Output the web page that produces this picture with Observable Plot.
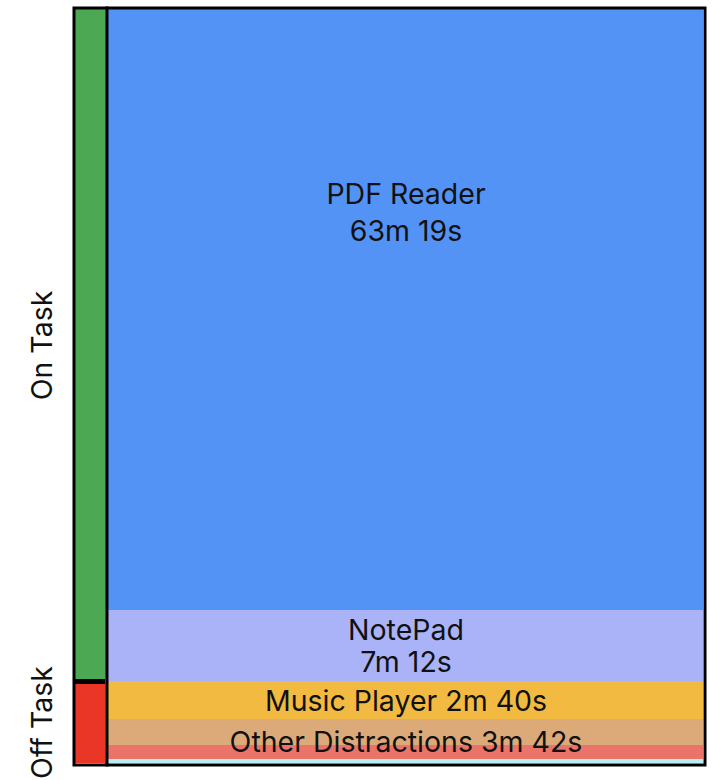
<!DOCTYPE html>
<html>
<head>
<meta charset="utf-8">
<script src="https://cdn.jsdelivr.net/npm/d3@7"></script>
<script src="https://cdn.jsdelivr.net/npm/@observablehq/plot@0.6"></script>
<style>
  html, body { margin: 0; padding: 0; background: white; }
  #chart { display: flex; flex-direction: row; width: 715px; height: 780px; overflow: hidden; }
</style>
</head>
<body>
<div id="chart"></div>
<script>
// ---- data ----
// segments of the right column (relative heights)
const segmentNames = ["PDF Reader", "NotePad", "Music Player", "Other (a)", "Other (b)", "Other (c)"];
const segmentGroup = ["PDF Reader", "NotePad", "Music Player", "Other Distractions", "Other Distractions", "Other Distractions"];
const segmentTask = ["On Task", "On Task", "Off Task", "Off Task", "Off Task", "Off Task"];
const segmentSize = [601, 71, 38, 26, 14, 4];
const segmentColor = ["#5393f6", "#abb3f8", "#f3ba42", "#dcaa79", "#ec736a", "#b5eff2"];

// labels
const labelNames = ["PDF Reader", "NotePad", "Music Player", "Other Distractions"];
const labelTimes = ["63m 19s", "7m 12s", "2m 40s", "3m 42s"];

// task groups (left column)
const taskNames = ["On Task", "Off Task"];
const taskColor = ["#4ca853", "#e93627"];

// ---- derived tables ----
const segments = segmentNames.map((n, i) => ({
  name: n, group: segmentGroup[i], task: segmentTask[i], size: segmentSize[i], color: segmentColor[i]
}));
const total = d3.sum(segmentSize);

function spans(keys, keyOf) {
  let acc = 0;
  const out = [];
  for (const k of keys) {
    const s = d3.sum(segments.filter(d => keyOf(d) === k), d => d.size);
    out.push({key: k, start: acc, end: acc + s, size: s});
    acc += s;
  }
  return out;
}

const groupSpans = spans(labelNames, d => d.group);
const labels = groupSpans.map((g, i) => ({
  name: labelNames[i],
  mid: (g.start + g.end) / 2,
  text: labelNames[i] + (g.size > 50 ? "\n" : " ") + labelTimes[i]
}));
const taskSpans = spans(taskNames, d => d.task);
const tasks = taskSpans.map((t, i) => ({
  name: taskNames[i], size: t.size, mid: (t.start + t.end) / 2, color: taskColor[i]
}));
const onTaskEnd = taskSpans[0].end;

const FONT = "Inter, 'Noto Sans', sans-serif";
const FS = 28.5;
const H = 780, MT = 9, MB = 17;
const yScale = {domain: [0, total], reverse: true, axis: null};

// ---- left column: On Task / Off Task ----
const left = Plot.plot({
  width: 106, height: H,
  marginLeft: 75, marginRight: 1, marginTop: MT, marginBottom: MB,
  style: {fontFamily: FONT, background: "transparent", overflow: "visible"},
  x: {axis: null, padding: 0},
  y: yScale,
  color: {type: "identity"},
  marks: [
    Plot.barY(tasks, {x: () => "task", y: "size", fill: "color", order: null}),
    Plot.ruleY([onTaskEnd], {stroke: "black", strokeWidth: 5}),
    Plot.frame({stroke: "black", strokeWidth: 3, inset: -1.5}),
    Plot.text(tasks, {x: () => "task", y: "mid", text: "name", rotate: -90, dx: -48,
      fontSize: FS, fill: "#111"})
  ]
});

// ---- right column: applications ----
const right = Plot.plot({
  width: 609, height: H,
  marginLeft: 2, marginRight: 12, marginTop: MT, marginBottom: MB,
  style: {fontFamily: FONT, background: "transparent", overflow: "visible"},
  x: {axis: null, padding: 0},
  y: yScale,
  color: {type: "identity"},
  marks: [
    Plot.barY(segments, {x: () => "app", y: "size", fill: "color", order: null}),
    Plot.frame({stroke: "black", strokeWidth: 3, inset: -1.5}),
    Plot.text(labels.slice(0, 1), {x: () => "app", y: "mid", text: "text", dy: -99,
      fontSize: FS, lineHeight: 1.3, fill: "#111"}),
    Plot.text(labels.slice(1), {x: () => "app", y: "mid", text: "text",
      fontSize: FS, lineHeight: 1.12, fill: "#111"})
  ]
});

const chart = document.getElementById("chart");
chart.appendChild(left);
chart.appendChild(right);
</script>
</body>
</html>
